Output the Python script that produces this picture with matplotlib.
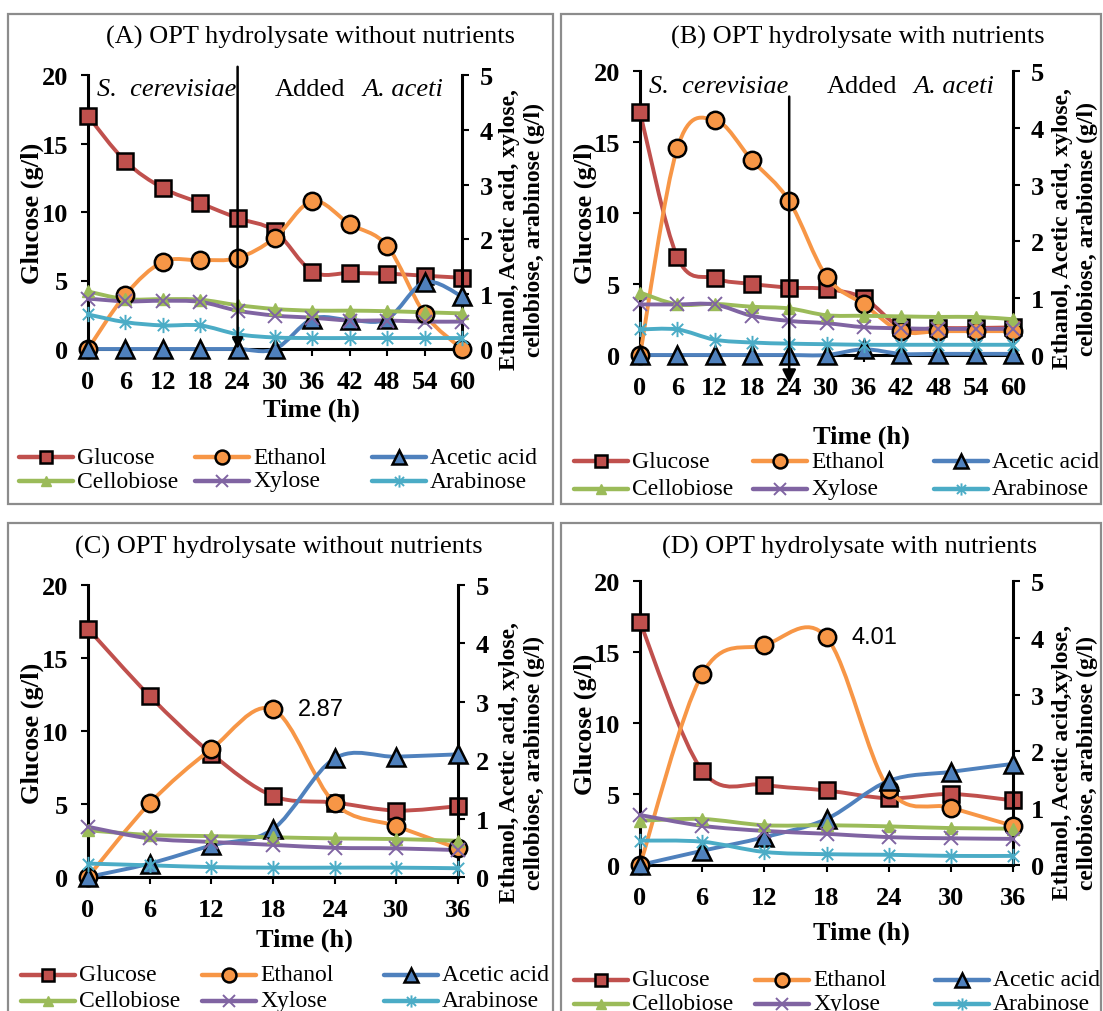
import matplotlib
matplotlib.use("Agg")
import matplotlib.pyplot as plt
from matplotlib.path import Path
from matplotlib.patches import PathPatch, Rectangle
from matplotlib.lines import Line2D

plt.rcParams['font.family'] = ['Liberation Serif', 'DejaVu Serif']

# ---- data ----
time_ab = [0, 6, 12, 18, 24, 30, 36, 42, 48, 54, 60]
time_cd = [0, 6, 12, 18, 24, 30, 36]

glucose_a = [17.0, 13.7, 11.75, 10.65, 9.55, 8.6, 5.65, 5.55, 5.5, 5.35, 5.2]
ethanol_a = [0, 0.99, 1.59, 1.62, 1.66, 2.03, 2.70, 2.28, 1.88, 0.64, 0]
acetic_a = [0, 0, 0, 0, 0, 0, 0.55, 0.53, 0.55, 1.22, 0.96]
cellobiose_a = [1.05, 0.91, 0.91, 0.9, 0.8, 0.73, 0.7, 0.7, 0.69, 0.67, 0.65]
xylose_a = [0.92, 0.87, 0.88, 0.86, 0.7, 0.61, 0.57, 0.52, 0.52, 0.5, 0.5]
arabinose_a = [0.63, 0.49, 0.43, 0.43, 0.27, 0.21, 0.2, 0.2, 0.2, 0.2, 0.2]

glucose_b = [17.1, 6.9, 5.4, 5.0, 4.75, 4.65, 4.0, 1.95, 1.9, 1.9, 1.95]
ethanol_b = [0, 3.64, 4.14, 3.43, 2.71, 1.38, 0.89, 0.42, 0.42, 0.42, 0.42]
acetic_b = [0, 0, 0, 0, 0, 0, 0.1, 0.02, 0.02, 0.02, 0.02]
cellobiose_b = [1.1, 0.89, 0.9, 0.85, 0.82, 0.7, 0.69, 0.68, 0.67, 0.67, 0.63]
xylose_b = [0.89, 0.89, 0.89, 0.69, 0.6, 0.56, 0.49, 0.47, 0.46, 0.46, 0.46]
arabinose_b = [0.45, 0.45, 0.27, 0.22, 0.2, 0.19, 0.18, 0.18, 0.18, 0.18, 0.18]

glucose_c = [17.0, 12.4, 8.45, 5.55, 5.1, 4.55, 4.85]
ethanol_c = [0, 1.26, 2.19, 2.87, 1.26, 0.87, 0.49]
acetic_c = [0, 0.23, 0.54, 0.82, 2.03, 2.06, 2.1]
cellobiose_c = [0.8, 0.72, 0.7, 0.68, 0.66, 0.65, 0.62]
xylose_c = [0.86, 0.66, 0.6, 0.55, 0.5, 0.49, 0.46]
arabinose_c = [0.23, 0.2, 0.17, 0.16, 0.16, 0.16, 0.15]

glucose_d = [17.1, 6.65, 5.65, 5.25, 4.7, 5.0, 4.55]
ethanol_d = [0, 3.36, 3.87, 4.01, 1.34, 1.01, 0.69]
acetic_d = [0, 0.25, 0.49, 0.81, 1.48, 1.64, 1.78]
cellobiose_d = [0.78, 0.81, 0.7, 0.7, 0.68, 0.65, 0.64]
xylose_d = [0.88, 0.69, 0.6, 0.55, 0.49, 0.47, 0.46]
arabinose_d = [0.43, 0.41, 0.23, 0.19, 0.18, 0.16, 0.16]

titles = ["(A) OPT hydrolysate without nutrients", "(B) OPT hydrolysate with nutrients",
          "(C) OPT hydrolysate without nutrients", "(D) OPT hydrolysate with nutrients"]
right_labels = ["Ethanol, Acetic acid, xylose,\ncellobiose, arabinose (g/l)",
                "Ethanol, Acetic acid, xylose,\ncellobiose, arabionse (g/l)",
                "Ethanol, Acetic acid, xylose,\ncellobiose, arabinose (g/l)",
                "Ethanol, Acetic acid,xylose,\ncellobiose, arabinose (g/l)"]
series_names = ["Glucose", "Ethanol", "Acetic acid", "Cellobiose", "Xylose", "Arabinose"]
peak_labels = [None, None, "2.87", "4.01"]

# Excel-like star marker: an "x" with a vertical bar through it
star = Path([(-1, -1), (1, 1), (-1, 1), (1, -1), (0, -1.35), (0, 1.35)],
            [Path.MOVETO, Path.LINETO, Path.MOVETO, Path.LINETO, Path.MOVETO, Path.LINETO])

# ---- styles ----
styles = {
    "Glucose": dict(color="#C0504D", marker="s", ms=11, mfc="#C0504D", mec="black", mew=1.8),
    "Ethanol": dict(color="#F79646", marker="o", ms=12.5, mfc="#F79646", mec="black", mew=1.8),
    "Acetic acid": dict(color="#4F81BD", marker="^", ms=12.5, mfc="#4F81BD", mec="black", mew=1.8),
    "Cellobiose": dict(color="#9BBB59", marker="^", ms=8.5, mfc="#9BBB59", mec="#9BBB59", mew=1),
    "Xylose": dict(color="#8064A2", marker="x", ms=10, mfc="#8064A2", mec="#8064A2", mew=1.4),
    "Arabinose": dict(color="#4BACC6", marker=star, ms=11, mfc="none", mec="#4BACC6", mew=1.4),
}

W, H = 1103, 1012


def fx(px):
    return px / W


def fy(py):
    return 1 - py / H


# pixel layout for each panel
layout = [
    dict(axes=(88, 76, 462, 350), border=(8, 15, 553, 505), title=(311, 37), ylab=(32, 213),
         rlab=(522, 230), xlab=(311, 410), leg_y=(458, 482), leg_x=(19, 195, 372)),
    dict(axes=(640, 72, 1013, 356), border=(561, 15, 1101, 505), title=(858, 37), ylab=(585, 213),
         rlab=(1075, 229), xlab=(861, 437), leg_y=(462, 490), leg_x=(574, 753, 934)),
    dict(axes=(88, 586, 458, 878), border=(8, 524, 553, 1030), title=(279, 547), ylab=(32, 733),
         rlab=(522, 763), xlab=(304, 940), leg_y=(976, 1002), leg_x=(21, 202, 384)),
    dict(axes=(640, 582, 1013, 866), border=(561, 524, 1101, 1030), title=(850, 547), ylab=(585, 724),
         rlab=(1075, 763), xlab=(861, 933), leg_y=(981, 1005), leg_x=(574, 755, 935)),
]

panel_data = [
    (time_ab, [glucose_a, ethanol_a, acetic_a, cellobiose_a, xylose_a, arabinose_a]),
    (time_ab, [glucose_b, ethanol_b, acetic_b, cellobiose_b, xylose_b, arabinose_b]),
    (time_cd, [glucose_c, ethanol_c, acetic_c, cellobiose_c, xylose_c, arabinose_c]),
    (time_cd, [glucose_d, ethanol_d, acetic_d, cellobiose_d, xylose_d, arabinose_d]),
]


def smooth_line(ax, x, y, color):
    # Excel style smoothed line: cubic bezier through every point
    n = len(x)
    verts = [(x[0], y[0])]
    codes = [Path.MOVETO]
    for i in range(n - 1):
        a = i - 1 if i > 0 else i
        b = i + 2 if i + 2 < n else i + 1
        c1 = (x[i] + (x[i + 1] - x[a]) / 6, y[i] + (y[i + 1] - y[a]) / 6)
        c2 = (x[i + 1] - (x[b] - x[i]) / 6, y[i + 1] - (y[b] - y[i]) / 6)
        verts += [c1, c2, (x[i + 1], y[i + 1])]
        codes += [Path.CURVE4] * 3
    patch = PathPatch(Path(verts, codes), fill=False, edgecolor=color, lw=2.8,
                      capstyle="round", joinstyle="round", clip_on=False)
    ax.add_patch(patch)


fig = plt.figure(figsize=(11.03, 10.12), dpi=100)

for k, lay in enumerate(layout):
    t, vals = panel_data[k]
    x0, y0, x1, y1 = lay["axes"]
    ax = fig.add_axes([fx(x0), fy(y1), fx(x1) - fx(x0), fy(y0) - fy(y1)])
    ax2 = ax.twinx()

    for name, v in zip(series_names, vals):
        st = styles[name]
        target = ax if name == "Glucose" else ax2
        smooth_line(target, t, v, st["color"])
        target.plot(t, v, ls="none", marker=st["marker"], ms=st["ms"], mfc=st["mfc"],
                    mec=st["mec"], mew=st["mew"], clip_on=False, zorder=3)

    ax.set_xlim(0, t[-1])
    ax.set_ylim(0, 20)
    ax2.set_ylim(0, 5)
    ax.set_xticks(t, labels=[str(v) for v in t], fontweight="bold", fontsize=19)
    ax.set_yticks([0, 5, 10, 15, 20], labels=["0", "5", "10", "15", "20"], fontweight="bold", fontsize=19)
    ax2.set_yticks([0, 1, 2, 3, 4, 5], labels=["0", "1", "2", "3", "4", "5"], fontweight="bold", fontsize=19)
    ax.tick_params(axis="x", direction="out", length=5, width=1.5, pad=10)
    ax.tick_params(axis="y", direction="out", length=5, width=1.5, pad=9)
    ax2.tick_params(axis="y", direction="out", length=5, width=1.5, pad=8)
    for a in (ax, ax2):
        a.spines["top"].set_visible(False)
        for s in ("left", "right", "bottom"):
            a.spines[s].set_linewidth(2.2)
    ax.spines["right"].set_visible(False)
    ax2.spines["left"].set_visible(False)
    ax2.spines["bottom"].set_visible(False)

    # texts
    fig.text(fx(lay["title"][0]), fy(lay["title"][1]), titles[k], ha="center", va="center", fontsize=19)
    fig.text(fx(lay["ylab"][0]), fy(lay["ylab"][1]), "Glucose (g/l)", rotation=90, ha="center",
             va="center", fontsize=19, fontweight="bold")
    fig.text(fx(lay["rlab"][0]), fy(lay["rlab"][1]), right_labels[k], rotation=90, ha="center",
             va="center", fontsize=17, fontweight="bold", linespacing=1.2)
    fig.text(fx(lay["xlab"][0]), fy(lay["xlab"][1]), "Time (h)", ha="center", va="center",
             fontsize=19, fontweight="bold")

    if k < 2:
        ax2.text(1.5, 4.74, "S.  cerevisiae", style="italic", fontsize=19, va="center", ha="left")
        ax2.text(30.0, 4.74, "Added", fontsize=19, va="center", ha="left")
        ax2.text(44.0, 4.74, "A. aceti", style="italic", fontsize=19, va="center", ha="left")
        top, tip, ms = (5.15, 0.0, 16) if k == 0 else (4.55, -0.5, 20)
        ax2.annotate("", xy=(24, tip), xytext=(24, top), annotation_clip=False, zorder=6,
                     arrowprops=dict(arrowstyle="-|>", color="black", lw=1.8, mutation_scale=ms,
                                     shrinkA=0, shrinkB=0))
    else:
        ax2.annotate(peak_labels[k], xy=(18, float(peak_labels[k])), xytext=(18, 0),
                     textcoords="offset points", va="center", ha="left", fontsize=17,
                     family="Liberation Sans")

    # border
    bx0, by0, bx1, by1 = lay["border"]
    fig.patches.append(Rectangle((fx(bx0), fy(by1)), fx(bx1) - fx(bx0), fy(by0) - fy(by1),
                                 transform=fig.transFigure, fill=False, edgecolor="#8c8c8c", lw=1.6))

    # legend, drawn row by row like the original
    order = [["Glucose", "Ethanol", "Acetic acid"], ["Cellobiose", "Xylose", "Arabinose"]]
    for r, row in enumerate(order):
        yy = fy(lay["leg_y"][r])
        for c, name in enumerate(row):
            st = styles[name]
            xs = lay["leg_x"][c]
            fig.add_artist(Line2D([fx(xs), fx(xs + 54)], [yy, yy], color=st["color"], lw=3.2,
                                  solid_capstyle="round", transform=fig.transFigure))
            fig.add_artist(Line2D([fx(xs + 27)], [yy], ls="none", marker=st["marker"], ms=st["ms"] * 0.8,
                                  mfc=st["mfc"], mec=st["mec"], mew=st["mew"], transform=fig.transFigure))
            fig.text(fx(xs + 58), yy, name, ha="left", va="center", fontsize=17)

fig.savefig("out.png", dpi=100)
